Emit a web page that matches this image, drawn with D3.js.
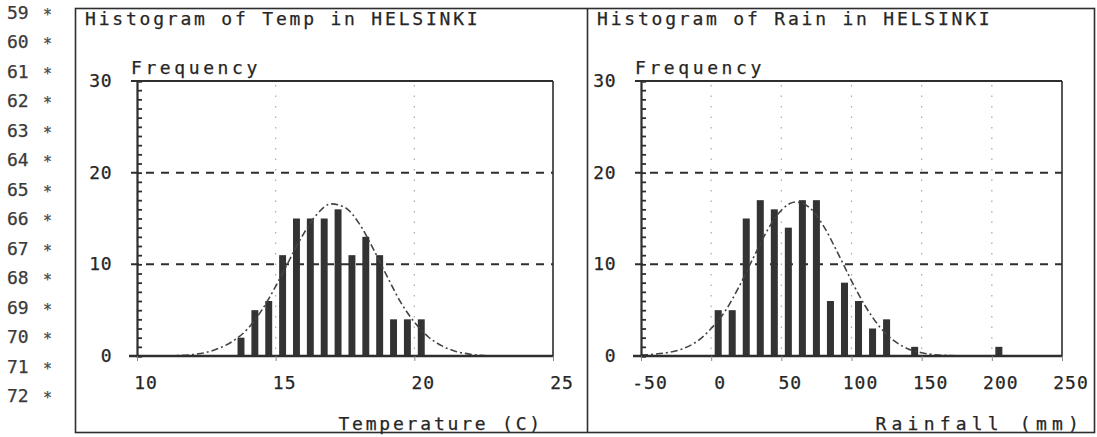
<!DOCTYPE html>
<html>
<head>
<meta charset="utf-8">
<script src="https://cdn.jsdelivr.net/npm/d3@7"></script>
<style>
  html, body { margin: 0; padding: 0; background: #fff; }
  svg { display: block; }
  text { font-family: "DejaVu Sans Mono", "Liberation Mono", monospace; fill: #262626; stroke: #262626; stroke-width: 0.25px; }
</style>
</head>
<body>
<svg id="chart" width="1097" height="437"></svg>
<script>
// Listing line numbers printed down the left margin
const lineNumbers = [59, 60, 61, 62, 63, 64, 65, 66, 67, 68, 69, 70, 71, 72];

// Temperature histogram (bin centres, °C) and counts
const tempBins   = [13.75, 14.25, 14.75, 15.25, 15.75, 16.25, 16.75, 17.25, 17.75, 18.25, 18.75, 19.25, 19.75, 20.25];
const tempCounts = [2, 5, 6, 11, 15, 15, 15, 16, 11, 13, 11, 4, 4, 4];

// Fitted curve over the temperature histogram
const tempCurveX = [10, 10.5, 11, 11.5, 12, 12.5, 13, 13.5, 14, 14.5, 15, 15.5, 16, 16.5, 17, 17.5, 18, 18.5, 19, 19.5, 20, 20.5, 21, 21.5, 22, 22.5, 23];
const tempCurveY = [0, 0, 0, 0.05, 0.15, 0.4, 0.9, 1.7, 3.0, 5.0, 7.6, 10.5, 13.3, 15.5, 16.6, 16.2, 14.5, 11.8, 8.8, 5.9, 3.7, 2.1, 1.1, 0.5, 0.2, 0.05, 0];

// Rainfall histogram (bin centres, mm) and counts
const rainBins   = [5, 15, 25, 35, 45, 55, 65, 75, 85, 95, 105, 115, 125, 145, 205];
const rainCounts = [5, 5, 15, 17, 16, 14, 17, 17, 6, 8, 6, 3, 4, 1, 1];

// Fitted curve over the rainfall histogram
const rainCurveX = [-50, -40, -30, -20, -10, 0, 10, 20, 30, 40, 50, 60, 70, 80, 90, 100, 110, 120, 130, 140, 150, 160, 170, 180];
const rainCurveY = [0.1, 0.2, 0.4, 0.8, 1.6, 3.0, 4.9, 7.6, 10.7, 13.7, 15.9, 16.8, 16.2, 14.2, 11.3, 8.2, 5.4, 3.2, 1.7, 0.8, 0.35, 0.13, 0.05, 0];

// Axis ticks
const freqTicks = [0, 10, 20, 30];
const tempTicks = [10, 15, 20, 25];
const rainTicks = [-50, 0, 50, 100, 150, 200, 250];

const ink = "#2e2e2e";
const svg = d3.select("#chart");

// Margin listing numbers
const rowY = d3.scaleLinear().domain([59, 72]).range([19, 402]);
const marginG = svg.append("g");
marginG.selectAll("text.num").data(lineNumbers).join("text")
  .attr("class", "num")
  .attr("x", 7).attr("y", d => rowY(d))
  .style("font-size", "18px").style("fill", "#3a3a3a").style("stroke", "#3a3a3a")
  .text(d => d);
marginG.selectAll("text.star").data(lineNumbers).join("text")
  .attr("class", "star")
  .attr("x", 43).attr("y", d => rowY(d) + 1)
  .style("font-size", "15px").style("fill", "#4a4a4a").style("stroke", "#4a4a4a")
  .text("*");

// Outer frame split into two panels
svg.append("rect").attr("x", 75.5).attr("y", 8.5).attr("width", 1019).attr("height", 424)
  .attr("fill", "none").attr("stroke", ink).attr("stroke-width", 1.6);
svg.append("line").attr("x1", 587.5).attr("x2", 587.5).attr("y1", 8.5).attr("y2", 432.5)
  .attr("stroke", ink).attr("stroke-width", 1.6);

const panels = [
  {
    title: "Histogram of Temp in HELSINKI", xTitle: "Temperature (C)", xTitleSpacing: 2.8,
    frameX: 75, left: 137, right: 553, domain: [10, 25], ticks: tempTicks,
    bins: tempBins, counts: tempCounts, barW: 0.25,
    curveX: tempCurveX, curveY: tempCurveY, xTitleEnd: 543
  },
  {
    title: "Histogram of Rain in HELSINKI", xTitle: "Rainfall (mm)", xTitleSpacing: 5.2,
    frameX: 587, left: 641, right: 1062, domain: [-50, 250], ticks: rainTicks,
    bins: rainBins, counts: rainCounts, barW: 5,
    curveX: rainCurveX, curveY: rainCurveY, xTitleEnd: 1084
  }
];

const plotTop = 81, plotBottom = 356;

panels.forEach(p => {
  const g = svg.append("g");
  const x = d3.scaleLinear().domain(p.domain).range([p.left, p.right]);
  const y = d3.scaleLinear().domain([0, 30]).range([plotBottom, plotTop]);

  // Panel title
  g.append("text").attr("x", p.frameX + 10).attr("y", 25)
    .style("font-size", "18px").style("letter-spacing", "2.8px")
    .text(p.title);

  // Y-axis title
  g.append("text").attr("x", p.left - 6).attr("y", 74)
    .style("font-size", "18px").style("letter-spacing", "3.6px")
    .text("Frequency");

  // Faint vertical dotted grid at the interior x ticks
  g.selectAll("line.vgrid").data(p.ticks.slice(1, -1)).join("line")
    .attr("class", "vgrid")
    .attr("x1", d => x(d)).attr("x2", d => x(d))
    .attr("y1", plotTop + 4).attr("y2", plotBottom)
    .attr("stroke", "#a8a8a8").attr("stroke-width", 1.2)
    .attr("stroke-dasharray", "1.5,9");

  // Dashed horizontal grid at 10 and 20
  g.selectAll("line.hgrid").data(freqTicks.slice(1, -1)).join("line")
    .attr("class", "hgrid")
    .attr("x1", p.left - 6).attr("x2", p.right)
    .attr("y1", d => y(d)).attr("y2", d => y(d))
    .attr("stroke", ink).attr("stroke-width", 2)
    .attr("stroke-dasharray", "8,7");

  // Histogram bars
  g.selectAll("rect.bar").data(p.bins.map((b, i) => ({ b, c: p.counts[i] }))).join("rect")
    .attr("class", "bar")
    .attr("x", d => x(d.b - p.barW / 2))
    .attr("width", d => x(d.b + p.barW / 2) - x(d.b - p.barW / 2))
    .attr("y", d => y(d.c))
    .attr("height", d => y(0) - y(d.c))
    .attr("fill", "#333");

  // Fitted curve
  const line = d3.line().x(d => x(d[0])).y(d => y(d[1])).curve(d3.curveMonotoneX);
  g.append("path")
    .datum(p.curveX.map((v, i) => [v, p.curveY[i]]))
    .attr("d", line)
    .attr("fill", "none").attr("stroke", "#444").attr("stroke-width", 1.6)
    .attr("stroke-dasharray", "7,3,2,3");

  // Plot box: top and right edges, baseline
  g.append("line").attr("x1", p.left - 6).attr("x2", p.right).attr("y1", plotTop).attr("y2", plotTop)
    .attr("stroke", ink).attr("stroke-width", 2.2);
  g.append("line").attr("x1", p.right).attr("x2", p.right).attr("y1", plotTop).attr("y2", plotBottom)
    .attr("stroke", ink).attr("stroke-width", 1.6);
  g.append("line").attr("x1", p.left - 8).attr("x2", p.right).attr("y1", plotBottom).attr("y2", plotBottom)
    .attr("stroke", ink).attr("stroke-width", 2.6);

  // Left axis with minor ticks every unit
  const yAxis = d3.axisRight(y).tickValues(d3.range(0, 31, 1)).tickSize(5).tickFormat("");
  const ya = g.append("g").attr("transform", `translate(${p.left},0)`).call(yAxis);
  ya.select(".domain").attr("stroke", ink).attr("stroke-width", 2.2);
  ya.selectAll(".tick line").attr("stroke", ink).attr("stroke-width", 1.8);

  // Y tick labels
  g.selectAll("text.ylab").data(freqTicks).join("text")
    .attr("class", "ylab")
    .attr("x", p.left - 25).attr("y", d => y(d) + 6)
    .attr("text-anchor", "end")
    .style("font-size", "18px").style("letter-spacing", "0.5px")
    .text(d => d);

  // Bottom axis ticks and labels
  const xAxis = d3.axisBottom(x).tickValues(p.ticks).tickSize(5).tickFormat("");
  const xa = g.append("g").attr("transform", `translate(0,${plotBottom})`).call(xAxis);
  xa.select(".domain").remove();
  xa.selectAll(".tick line").attr("stroke", "#888").attr("stroke-width", 1);

  g.selectAll("text.xlab").data(p.ticks).join("text")
    .attr("class", "xlab")
    .attr("x", d => x(d) + 9).attr("y", 389)
    .attr("text-anchor", "middle")
    .style("font-size", "18px").style("letter-spacing", "1px")
    .text(d => d);

  // X-axis title
  g.append("text").attr("x", p.xTitleEnd).attr("y", 430)
    .attr("text-anchor", "end")
    .style("font-size", "18px").style("letter-spacing", `${p.xTitleSpacing}px`)
    .text(p.xTitle);
});
</script>
</body>
</html>
